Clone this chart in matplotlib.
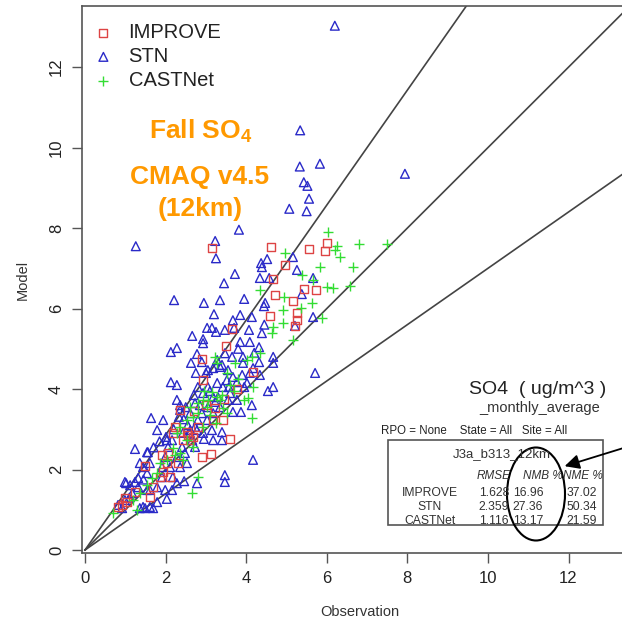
import matplotlib
matplotlib.use("Agg")
import matplotlib.pyplot as plt
from matplotlib.patches import Ellipse, FancyArrowPatch

plt.rcParams['font.family'] = ['Liberation Sans', 'DejaVu Sans']
plt.rcParams['mathtext.fontset'] = 'custom'
plt.rcParams['mathtext.rm'] = 'Liberation Sans:bold'
plt.rcParams['mathtext.bf'] = 'Liberation Sans:bold'

# ---------------- data ----------------
stn_x = [6.20, 5.34, 5.33, 5.83, 7.94, 5.43, 5.52, 5.56, 5.07, 5.50,
         1.26, 3.23, 3.25, 3.82, 3.45, 3.72, 2.21, 2.95, 3.35, 3.20,
         3.95, 4.14, 3.85, 3.67, 4.37, 4.39, 4.52, 4.34, 4.57, 4.47,
         4.44, 5.26, 5.66, 5.66, 5.71, 5.16, 5.38, 5.21, 3.03, 3.15,
         3.25, 3.47, 3.70, 4.07, 4.39, 2.66, 2.93, 2.93, 2.28, 2.13,
         2.78, 2.63, 2.90, 2.75, 4.32, 4.32, 4.67, 4.67, 4.54, 4.67,
         3.92, 2.13, 2.28, 1.64, 1.24, 1.79, 1.94, 1.56, 2.01, 2.36,
         2.33, 2.61, 2.73, 2.80, 3.03, 3.18, 3.35, 3.57, 3.67, 3.77,
         3.95, 3.87, 4.14, 3.40, 3.18, 3.40, 2.95, 4.17, 3.47, 3.47,
         2.78, 2.16, 1.02, 1.12, 1.24, 1.32, 1.61, 1.69, 1.49, 1.36,
         1.79, 0.92, 0.82, 1.99, 2.36, 2.53, 2.11, 1.91, 1.99, 2.28,
         2.48, 2.73, 2.16, 2.06, 2.43, 2.61, 2.41, 2.66, 2.78, 2.90,
         2.80, 3.05, 2.93, 3.18, 3.42, 3.28, 3.52, 3.35, 3.55, 3.65,
         3.47, 3.28, 3.18, 3.05, 4.17, 4.09, 3.92, 3.85, 4.09, 4.34,
         4.02, 3.77, 3.55, 3.67, 3.23, 3.05, 2.73, 2.93, 3.15, 2.36,
         2.28, 2.03, 1.44, 1.54, 1.36, 1.61, 1.91, 2.18, 2.28, 0.99,
         1.17, 1.54, 1.32, 1.79, 1.44, 1.61, 1.54, 0.99, 2.03, 2.46,
         1.70, 2.55, 2.85, 3.10, 3.30, 3.60, 2.20, 2.45, 2.60, 1.85,
         3.00, 3.40, 3.90, 4.20, 2.50, 2.70, 3.80, 4.45, 1.10, 1.45]
stn_y = [13.03, 10.43, 9.53, 9.60, 9.35, 9.14, 9.05, 8.73, 8.48, 8.42,
         7.55, 7.68, 7.25, 7.96, 6.63, 6.86, 6.21, 6.14, 6.21, 5.86,
         6.24, 5.79, 5.84, 5.71, 7.13, 7.03, 7.23, 6.76, 6.76, 6.14,
         6.06, 6.96, 6.76, 5.79, 4.40, 7.28, 6.36, 5.57, 5.52, 5.52,
         5.42, 5.47, 5.52, 5.47, 5.39, 5.32, 5.24, 5.14, 5.02, 4.92,
         4.87, 4.65, 4.67, 4.40, 5.04, 4.67, 4.80, 4.65, 3.95, 4.05,
         4.80, 4.17, 4.10, 3.28, 2.51, 2.98, 3.23, 2.43, 2.81, 3.60,
         3.31, 3.40, 3.65, 3.23, 3.23, 3.40, 3.55, 4.05, 4.30, 4.17,
         4.05, 3.43, 3.60, 2.93, 2.73, 2.73, 2.76, 2.24, 1.86, 1.69,
         1.66, 1.49, 1.66, 1.61, 1.69, 1.79, 1.07, 1.04, 1.04, 1.04,
         1.19, 1.04, 1.12, 1.49, 2.06, 2.16, 2.06, 2.06, 2.31, 2.31,
         2.41, 2.56, 2.73, 2.56, 2.91, 2.98, 2.56, 2.73, 2.98, 3.40,
         4.05, 4.05, 3.90, 3.80, 4.05, 4.15, 4.22, 4.55, 4.47, 4.80,
         4.89, 4.72, 4.52, 4.47, 4.52, 4.40, 4.65, 5.17, 5.17, 4.35,
         4.15, 3.73, 3.73, 3.43, 3.68, 3.55, 3.06, 2.91, 2.98, 3.48,
         3.73, 2.73, 2.06, 1.91, 2.16, 2.16, 1.81, 1.81, 1.66, 1.24,
         1.41, 1.49, 1.56, 1.56, 1.07, 1.49, 2.43, 1.69, 1.27, 1.71,
         2.55, 3.10, 3.60, 3.95, 3.80, 3.90, 3.00, 3.25, 2.90, 2.70,
         4.40, 4.60, 4.35, 4.90, 3.55, 3.85, 5.00, 5.60, 1.30, 1.75]

improve_x = [3.15, 4.62, 5.56, 6.00, 5.96, 4.96, 4.67, 5.43, 5.73, 4.71,
             5.16, 4.59, 5.26, 5.26, 5.21, 3.65, 3.50, 2.90, 2.93, 4.17,
             3.77, 3.45, 3.23, 2.36, 2.23, 2.53, 2.61, 3.42, 3.18, 3.60,
             3.13, 2.90, 1.49, 1.91, 2.06, 2.11, 1.86, 1.94, 1.69, 1.61,
             0.99, 0.92, 1.04, 0.82, 2.56, 2.68, 2.43, 2.80, 2.18, 2.31,
             2.03, 2.70, 3.00, 1.25]
improve_y = [7.50, 7.53, 7.48, 7.63, 7.43, 7.08, 6.73, 6.48, 6.46, 6.34,
             6.19, 5.81, 5.89, 5.71, 5.57, 5.49, 5.07, 4.75, 4.22, 4.42,
             4.00, 3.75, 3.53, 3.48, 3.06, 2.93, 2.73, 3.23, 3.23, 2.76,
             2.39, 2.31, 2.09, 2.36, 2.41, 1.81, 1.81, 1.94, 1.56, 1.32,
             1.29, 1.12, 1.19, 1.07, 2.86, 2.81, 2.73, 3.06, 2.91, 2.16,
             2.16, 3.45, 3.60, 1.45]

castnet_x = [6.03, 6.80, 6.20, 6.33, 6.65, 5.83, 4.96, 5.38, 5.66, 6.00,
             6.15, 6.58, 4.94, 5.63, 4.91, 5.88, 4.91, 5.16, 7.49, 6.25,
             5.36, 4.67, 4.64, 4.34, 4.34, 4.14, 4.02, 3.72, 3.23, 3.28,
             3.52, 4.17, 3.95, 4.04, 4.14, 3.28, 3.05, 2.93, 3.15, 3.35,
             3.03, 2.80, 3.42, 3.52, 2.80, 2.68, 2.93, 2.53, 2.36, 2.28,
             2.53, 2.68, 2.36, 2.18, 2.03, 1.86, 1.79, 1.66, 1.54, 1.36,
             2.80, 2.66, 1.19, 1.29, 0.69, 2.23, 2.43, 3.10, 3.40, 3.80,
             2.60, 3.60, 2.95, 3.25, 3.70]
castnet_y = [7.90, 7.60, 7.45, 7.28, 7.03, 7.03, 7.38, 6.83, 6.71, 6.53,
             6.51, 6.56, 6.29, 6.14, 5.96, 5.76, 5.64, 5.22, 7.60, 7.55,
             6.01, 5.54, 5.39, 6.46, 4.89, 4.80, 4.72, 4.65, 4.80, 4.65,
             4.40, 4.05, 3.73, 3.78, 3.28, 3.80, 3.73, 3.73, 3.93, 3.73,
             3.55, 3.65, 3.53, 3.40, 3.40, 3.31, 3.06, 3.23, 3.06, 2.91,
             2.73, 2.56, 2.41, 2.53, 2.24, 2.16, 1.91, 1.79, 1.61, 1.41,
             1.81, 1.41, 1.24, 0.99, 0.92, 2.36, 2.24, 3.35, 3.85, 4.25,
             3.55, 4.10, 3.95, 3.15, 3.95]

series_names = ["IMPROVE", "STN", "CASTNet"]
ratio_slopes = [1 / 0.7, 1.0, 0.7]

stat_rows = ["IMPROVE", "STN", "CASTNet"]
stat_cols = ["RMSE", "NMB %", "NME %"]
rmse = ["1.628", "2.359", "1.116"]
nmb = ["16.96", "27.36", "13.17"]
nme = ["37.02", "50.34", "21.59"]

# ---------------- figure ----------------
W, H = 622, 621
fig = plt.figure(figsize=(W / 100, H / 100), dpi=100)

def fx(px):
    return px / W

def fy(py):
    return 1 - py / H

ax = fig.add_axes([fx(82), fy(553), (637 - 82) / W, (553 - 6) / H])
ax.set_xlim(-0.075, 13.7)
ax.set_ylim(-0.075, 13.52)

red = '#dd4444'
blue = '#2a2ac8'
green = '#33dd33'
lc = '#444444'

for s in ratio_slopes:
    ax.plot([0, 30], [0, 30 * s], color=lc, lw=1.2, zorder=1)

h_stn = ax.scatter(stn_x, stn_y, marker='^', s=40, facecolors='none',
                   edgecolors=blue, linewidths=1.0, zorder=2)
h_imp = ax.scatter(improve_x, improve_y, marker='s', s=34, facecolors='none',
                   edgecolors=red, linewidths=1.0, zorder=3)
h_cas = ax.scatter(castnet_x, castnet_y, marker='+', s=60,
                   color=green, linewidths=1.0, zorder=4)

for sp in ax.spines.values():
    sp.set_color('#555555')
    sp.set_linewidth(1.2)

ax.set_xticks([0, 2, 4, 6, 8, 10, 12])
ax.set_yticks([0, 2, 4, 6, 8, 10, 12])
ax.tick_params(direction='out', length=7, width=1.0, color='#555555',
               labelsize=12, labelcolor='#222222', pad=6)
for lab in ax.get_yticklabels():
    lab.set_rotation(90)
    lab.set_va('center')

ax.set_xlabel("Observation", fontsize=10.5, color='#333333', labelpad=14)
ax.set_ylabel("Model", fontsize=10.5, color='#333333', labelpad=14)

leg = ax.legend([h_imp, h_stn, h_cas], series_names, loc='upper left',
                bbox_to_anchor=(-0.005, 1.0 - (3 / 547)),
                bbox_transform=ax.transAxes,
                frameon=False, fontsize=14.5, handletextpad=0.75,
                labelspacing=0.25, borderaxespad=0.3, scatterpoints=1,
                handlelength=1.0)
for t in leg.get_texts():
    t.set_color('#222222')

orange = '#ff9900'
fig.text(fx(201), fy(131), r"Fall SO$_\mathbf{4}$", color=orange,
         fontsize=19, fontweight='bold', ha='center', va='center')
fig.text(fx(200), fy(177), "CMAQ v4.5", color=orange,
         fontsize=19, fontweight='bold', ha='center', va='center')
fig.text(fx(200), fy(209), "(12km)", color=orange,
         fontsize=19, fontweight='bold', ha='center', va='center')

# stats annotation
fig.text(fx(606), fy(389), "SO4  ( ug/m^3 )", fontsize=14, ha='right',
         va='center', color='#222222')
fig.text(fx(600), fy(408), "_monthly_average", fontsize=10.5, ha='right',
         va='center', color='#333333')
fig.text(fx(381), fy(431), "RPO = None    State = All   Site = All",
         fontsize=8.3, ha='left', va='center', color='#222222')

box = plt.Rectangle((fx(388), fy(525)), fx(603) - fx(388), fy(440) - fy(525),
                    transform=fig.transFigure, fill=False,
                    edgecolor='#555555', lw=1.2)
fig.add_artist(box)
fig.text(fx(502), fy(454), "J3a_b313_12km", fontsize=9.5, ha='center',
         va='center', color='#333333')
col_right = [511, 563, 603]
for cx, cl in zip(col_right, stat_cols):
    fig.text(fx(cx), fy(476), cl, fontsize=8.5, style='italic', ha='right',
             va='center', color='#333333')
row_y = [493, 507, 521]
for ry, name, a, b, c in zip(row_y, stat_rows, rmse, nmb, nme):
    fig.text(fx(430), fy(ry), name, fontsize=8.7, ha='center', va='center',
             color='#333333')
    fig.text(fx(494), fy(ry), a, fontsize=8.7, ha='center', va='center',
             color='#333333')
    fig.text(fx(528), fy(ry), b, fontsize=8.7, ha='center', va='center',
             color='#333333')
    fig.text(fx(582), fy(ry), c, fontsize=8.7, ha='center', va='center',
             color='#333333')

circ = Ellipse((fx(536), fy(494)), 58 / W, 93 / H, transform=fig.transFigure,
               fill=False, edgecolor='black', lw=1.5)
fig.add_artist(circ)
fig.add_artist(FancyArrowPatch(
    (fx(630), fy(446)), (fx(562), fy(467)), transform=fig.transFigure,
    arrowstyle='-|>', mutation_scale=22, color='black', lw=1.3))

fig.savefig("out.png", dpi=100)
